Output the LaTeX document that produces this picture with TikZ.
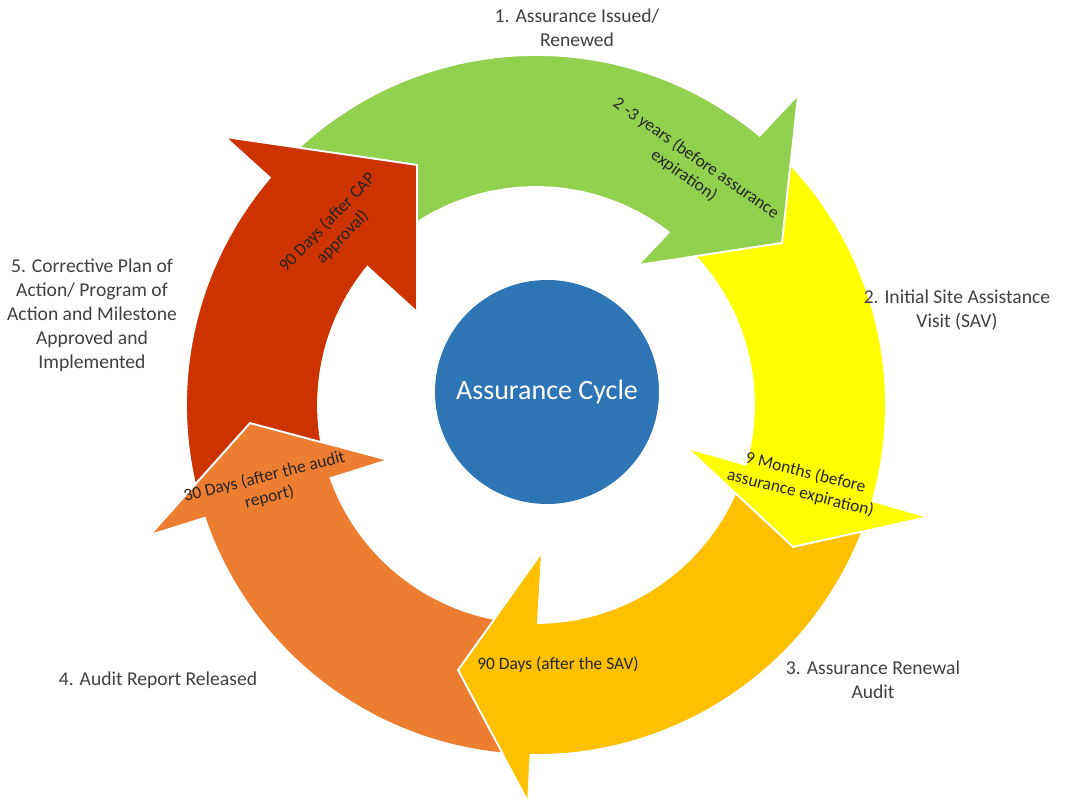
\documentclass[tikz,border=0pt]{standalone}
\usepackage{fontspec}
\setmainfont{Carlito}
\usetikzlibrary{positioning}

\definecolor{cyclegreen}{RGB}{146,208,80}
\definecolor{cycleyellow}{RGB}{255,255,0}
\definecolor{cyclegold}{RGB}{255,192,0}
\definecolor{cycleorange}{RGB}{237,125,49}
\definecolor{cyclered}{RGB}{204,51,0}
\definecolor{hubblue}{RGB}{46,117,182}
\definecolor{labelgrey}{RGB}{64,64,64}

\begin{document}
\begin{tikzpicture}[x=0.5pt,y=0.5pt,
	segment/.style={draw=white,line width=0.9pt,line join=miter},
	stagelabel/.style={text=labelgrey,align=center,inner sep=0pt,font=\fontsize{9.8}{12}\selectfont},
	timelabel/.style={text=black!85,align=center,inner sep=0pt,font=\fontsize{8.7}{10.5}\selectfont}]
	\useasboundingbox (-536,405) rectangle (532,-402);
	% green arrow, issued -> site visit
	\draw[segment,fill=cyclegreen] (132.7:350) arc[start angle=132.7,end angle=50.28,radius=350]
		-- (262,310) -- (246,162) -- (102,140) -- (52.43:218)
		arc[start angle=52.43,end angle=123.08,radius=218] -- (-119,240) -- cycle;
	% yellow arrow, site visit -> renewal audit
	\draw[segment,fill=cycleyellow] (43.36:350) arc[start angle=43.36,end angle=-15.94,radius=350]
		-- (392,-112) -- (257,-142) -- (151,-43) -- (-15.9:218)
		arc[start angle=-15.9,end angle=43.03,radius=218] -- (246,162) -- cycle;
	% gold arrow, renewal audit -> report
	\draw[segment,fill=cyclegold] (-21.2:350) arc[start angle=-21.2,end angle=-90.9,radius=350]
		-- (-8,-397) -- (-78,-265) -- (6,-147) -- (-89.5:218)
		arc[start angle=-89.5,end angle=-23.86,radius=218] -- (257,-142) -- cycle;
	% orange arrow, report -> corrective plan
	\draw[segment,fill=cycleorange] (264.5:350) arc[start angle=264.5,end angle=198.8,radius=350]
		-- (-386,-130) -- (-286,-18) -- (-148,-55) -- (199.6:218)
		arc[start angle=199.6,end angle=259,radius=218] -- (-78,-265) -- cycle;
	% red arrow, corrective plan -> issued
	\draw[segment,fill=cyclered] (193.1:350) arc[start angle=193.1,end angle=139.5,radius=350]
		-- (-311,268) -- (-119,240) -- (-119,93) -- (140.66:218)
		arc[start angle=140.66,end angle=189.8,radius=218] -- (-286,-18) -- cycle;

	% centre disc
	\node[circle,fill=hubblue,minimum size=112pt,text=white,font=\fontsize{14}{16}\selectfont] (hub) at (11,13) {Assurance Cycle};

	% time spans on the arrows
	\node[timelabel,rotate=-35] (greentime) at (154,238) {2 -3 years (before assurance\\expiration)};
	\node[timelabel,rotate=-14] (yellowtime) at (267,-78) {9 Months (before\\assurance expiration)};
	\node[timelabel] (goldtime) at (22,-260) {90 Days (after the SAV)};
	\node[timelabel,rotate=14] (orangetime) at (-269,-82) {30 Days (after the audit\\report)};
	\node[timelabel,rotate=46] (redtime) at (-201,175) {90 Days (after CAP\\approval)};

	% stages round the ring
	\node[stagelabel] (issued) at (41,377) {1. Assurance Issued/\\Renewed};
	\node[stagelabel] (sav) at (421,95) {2. Initial Site Assistance\\Visit (SAV)};
	\node[stagelabel] (audit) at (337,-275) {3. Assurance Renewal\\Audit};
	\node[stagelabel] (report) at (-378,-275) {4. Audit Report Released};
	\node[stagelabel] (cap) at (-444,90) {5. Corrective Plan of\\Action/ Program of\\Action and Milestone\\Approved and\\Implemented};
\end{tikzpicture}
\end{document}
